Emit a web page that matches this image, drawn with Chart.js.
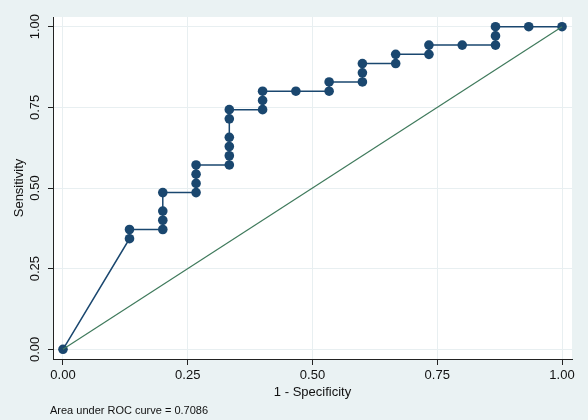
<!DOCTYPE html>
<html>
<head>
<meta charset="utf-8">
<title>ROC curve</title>
<script src="https://cdn.jsdelivr.net/npm/chart.js@4/dist/chart.umd.min.js"></script>
<style>
  html, body { margin: 0; padding: 0; background: #eaf2f3; }
  canvas { display: block; }
</style>
</head>
<body>
<canvas id="roc" width="588" height="420"></canvas>
<script>
// 1 - specificity and sensitivity at each cutoff (15 negatives, 35 positives)
const falsePos = [0, 0.1333, 0.1333, 0.2, 0.2, 0.2, 0.2, 0.2667, 0.2667, 0.2667, 0.2667,
  0.3333, 0.3333, 0.3333, 0.3333, 0.3333, 0.3333, 0.4, 0.4, 0.4, 0.4667,
  0.5333, 0.5333, 0.6, 0.6, 0.6, 0.6667, 0.6667, 0.7333, 0.7333, 0.8,
  0.8667, 0.8667, 0.8667, 0.9333, 1];
const truePos = [0, 0.3429, 0.3714, 0.3714, 0.4, 0.4286, 0.4857, 0.4857, 0.5143, 0.5429, 0.5714,
  0.5714, 0.6, 0.6286, 0.6571, 0.7143, 0.7429, 0.7429, 0.7714, 0.8, 0.8,
  0.8, 0.8286, 0.8286, 0.8571, 0.8857, 0.8857, 0.9143, 0.9143, 0.9429, 0.9429,
  0.9429, 0.9714, 1, 1, 1];
const refX = [0, 1];
const refY = [0, 1];
const tickValues = [0, 0.25, 0.5, 0.75, 1];
const aucText = "Area under ROC curve = 0.7086";

const NAVY = "#1a476f";
const GREEN = "#3f7a5c";
const FONT = "'Liberation Sans', Arial, sans-serif";

let rocPoints = [];
for (let i = 0; i < falsePos.length; i++) {
  rocPoints.push({ x: falsePos[i], y: truePos[i] });
}
let refPoints = [];
for (let i = 0; i < refX.length; i++) {
  refPoints.push({ x: refX[i], y: refY[i] });
}

function fixedTicks(scale) {
  scale.ticks = tickValues.map(function (v) { return { value: v }; });
}

// white plot region + note under the graph
const plotBg = {
  id: "plotBg",
  beforeDraw: function (chart) {
    let a = chart.chartArea;
    chart.ctx.save();
    chart.ctx.fillStyle = "#ffffff";
    chart.ctx.fillRect(a.left, a.top, a.right - a.left, a.bottom - a.top);
    chart.ctx.restore();
  },
  afterDraw: function (chart) {
    let ctx = chart.ctx;
    ctx.save();
    ctx.font = "11px " + FONT;
    ctx.fillStyle = "#111";
    ctx.textBaseline = "middle";
    ctx.fillText(aucText, 50, 411);
    ctx.restore();
  }
};

new Chart(document.getElementById("roc"), {
  type: "scatter",
  data: {
    datasets: [
      {
        data: refPoints,
        showLine: true,
        borderColor: GREEN,
        borderWidth: 1.2,
        pointRadius: 0
      },
      {
        data: rocPoints,
        showLine: true,
        borderColor: NAVY,
        borderWidth: 1.5,
        pointRadius: 4.8,
        pointBackgroundColor: NAVY,
        pointBorderColor: NAVY,
        pointBorderWidth: 0
      }
    ]
  },
  options: {
    responsive: false,
    animation: false,
    devicePixelRatio: 1,
    events: [],
    layout: { padding: { left: 0, right: 16, top: 17, bottom: 20 } },
    plugins: {
      legend: { display: false },
      tooltip: { enabled: false }
    },
    scales: {
      x: {
        type: "linear",
        min: -0.02,
        max: 1.02,
        afterBuildTicks: fixedTicks,
        afterFit: function (scale) { scale.height = 41; },
        grid: { color: "#e8eff1", lineWidth: 1, tickColor: "#222", tickLength: 6 },
        border: { color: "#222", width: 1 },
        ticks: {
          font: { family: FONT, size: 13 },
          color: "#111",
          padding: 3,
          maxRotation: 0,
          callback: function (v) { return v.toFixed(2); }
        },
        title: {
          display: true,
          text: "1 - Specificity",
          font: { family: FONT, size: 13 },
          color: "#111",
          padding: { top: 0, bottom: 0 }
        }
      },
      y: {
        type: "linear",
        min: -0.03,
        max: 1.03,
        afterBuildTicks: fixedTicks,
        afterFit: function (scale) { scale.width = 53; },
        grid: { color: "#e8eff1", lineWidth: 1, tickColor: "#222", tickLength: 5 },
        border: { color: "#222", width: 1 },
        ticks: {
          font: { family: FONT, size: 13 },
          color: "#111",
          padding: 0,
          minRotation: 90,
          maxRotation: 90,
          crossAlign: "center",
          callback: function (v) { return v.toFixed(2); }
        },
        title: {
          display: true,
          text: "Sensitivity",
          font: { family: FONT, size: 13 },
          color: "#111",
          padding: { top: 12, bottom: 0 }
        }
      }
    }
  },
  plugins: [plotBg]
});
</script>
</body>
</html>
